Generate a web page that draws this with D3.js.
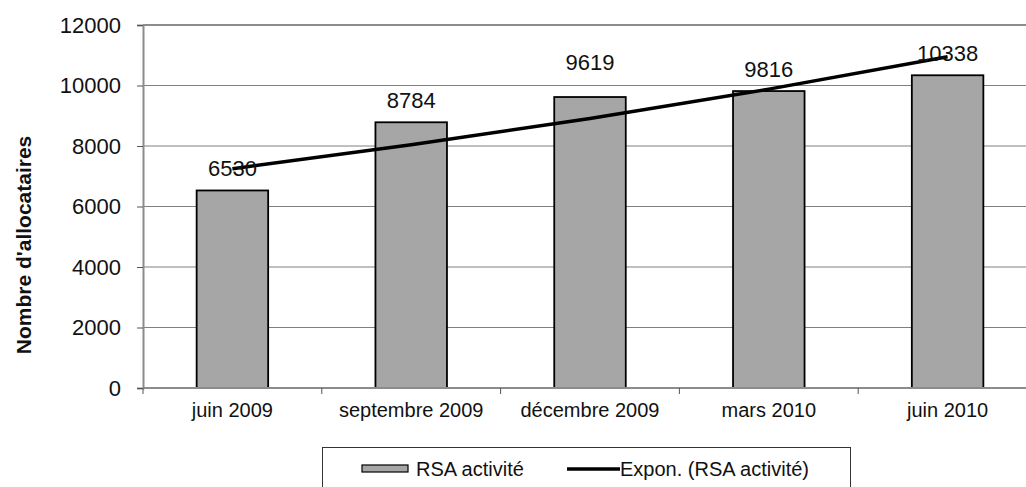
<!DOCTYPE html>
<html>
<head>
<meta charset="utf-8">
<script src="https://cdn.jsdelivr.net/npm/d3@7"></script>
<style>
  body { margin: 0; background: #fff; }
  svg { display: block; font-family: "Liberation Sans", Arial, sans-serif; }
</style>
</head>
<body>
<div id="chart"></div>
<script>
// data
const categories = ["juin 2009", "septembre 2009", "décembre 2009", "mars 2010", "juin 2010"];
const rsaActivite = [6530, 8784, 9619, 9816, 10338];
// exponential trendline, read at each category
const exponTrend = [7250, 8040, 8910, 9880, 10950];
const yTicks = [0, 2000, 4000, 6000, 8000, 10000, 12000];
const seriesName = "RSA activité";
const trendName = "Expon. (RSA activité)";

var width = 1026, height = 487;
var plot = {left: 143, right: 1037, top: 25, bottom: 388};

var svg = d3.select("#chart")
    .append("svg")
    .attr("width", width)
    .attr("height", height);

var x = d3.scaleBand()
    .domain(categories)
    .range([plot.left, plot.right])
    .paddingInner(0.6)
    .paddingOuter(0.3);

var y = d3.scaleLinear()
    .domain([0, 12000])
    .range([plot.bottom, plot.top]);

// gridlines
svg.append("g")
    .selectAll("line")
    .data(yTicks.filter(d => d > 0 && d < 12000))
    .enter()
    .append("line")
    .attr("x1", plot.left).attr("x2", plot.right)
    .attr("y1", d => y(d)).attr("y2", d => y(d))
    .attr("stroke", "#808080")
    .attr("stroke-width", 1);

// top border of plot area
svg.append("line")
    .attr("x1", plot.left).attr("x2", plot.right)
    .attr("y1", y(12000)).attr("y2", y(12000))
    .attr("stroke", "#8c8c8c")
    .attr("stroke-width", 2);

// Y axis
var yAxis = svg.append("g")
    .attr("transform", "translate(" + plot.left + ",0)")
    .call(d3.axisLeft(y).tickValues(yTicks).tickSize(6).tickPadding(16).tickFormat(d3.format("d")));
yAxis.select(".domain").attr("stroke", "#8c8c8c").attr("stroke-width", 2);
yAxis.selectAll(".tick line").attr("stroke", "#555");
yAxis.selectAll("text")
    .style("font-size", "22px")
    .attr("fill", "#111");

// bars
svg.selectAll("rect.bar")
    .data(rsaActivite)
    .enter()
    .append("rect")
    .attr("class", "bar")
    .attr("x", (d, i) => x(categories[i]))
    .attr("y", d => y(d))
    .attr("width", x.bandwidth())
    .attr("height", d => y(0) - y(d))
    .attr("fill", "#a6a6a6")
    .attr("stroke", "#000")
    .attr("stroke-width", 1.8);

// X axis
var xAxis = svg.append("g")
    .attr("transform", "translate(0," + plot.bottom + ")");
xAxis.append("line")
    .attr("x1", plot.left).attr("x2", plot.right)
    .attr("stroke", "#8c8c8c").attr("stroke-width", 2);
var bounds = categories.map(c => x(c) - x.step() * x.paddingOuter());
xAxis.selectAll("line.tk")
    .data(bounds)
    .enter()
    .append("line")
    .attr("class", "tk")
    .attr("x1", d => d).attr("x2", d => d)
    .attr("y1", 0).attr("y2", 6)
    .attr("stroke", "#555");
xAxis.selectAll("text")
    .data(categories)
    .enter()
    .append("text")
    .attr("x", d => x(d) + x.bandwidth() / 2)
    .attr("y", 29)
    .attr("text-anchor", "middle")
    .style("font-size", "20px")
    .attr("fill", "#111")
    .text(d => d);

// trendline
var line = d3.line()
    .x((d, i) => x(categories[i]) + x.bandwidth() / 2)
    .y(d => y(d))
    .curve(d3.curveMonotoneX);
svg.append("path")
    .datum(exponTrend)
    .attr("d", line)
    .attr("fill", "none")
    .attr("stroke", "#000")
    .attr("stroke-width", 3.5);

// value labels (the december one sits a bit higher in the original)
var lift = {"décembre 2009": 13};
svg.selectAll("text.val")
    .data(rsaActivite)
    .enter()
    .append("text")
    .attr("class", "val")
    .attr("x", (d, i) => x(categories[i]) + x.bandwidth() / 2)
    .attr("y", (d, i) => y(d) - 14 - (lift[categories[i]] || 0))
    .attr("text-anchor", "middle")
    .style("font-size", "22px")
    .attr("fill", "#111")
    .text(d => d);

// Y title
svg.append("text")
    .attr("transform", "translate(31,245)rotate(-90)")
    .attr("text-anchor", "middle")
    .style("font-size", "21px")
    .style("font-weight", "bold")
    .attr("fill", "#111")
    .text("Nombre d'allocataires");

// legend
var lg = svg.append("g");
lg.append("rect")
    .attr("x", 322.5).attr("y", 447.5)
    .attr("width", 528).attr("height", 60)
    .attr("fill", "#fff")
    .attr("stroke", "#333")
    .attr("stroke-width", 1);
lg.append("rect")
    .attr("x", 362).attr("y", 465)
    .attr("width", 46).attr("height", 7)
    .attr("fill", "#a6a6a6")
    .attr("stroke", "#000")
    .attr("stroke-width", 1.2);
lg.append("text")
    .attr("x", 416).attr("y", 476)
    .style("font-size", "20px")
    .attr("fill", "#111")
    .text(seriesName);
lg.append("line")
    .attr("x1", 567).attr("x2", 620)
    .attr("y1", 469).attr("y2", 469)
    .attr("stroke", "#000")
    .attr("stroke-width", 3.5);
lg.append("text")
    .attr("x", 620).attr("y", 476)
    .style("font-size", "20px")
    .attr("fill", "#111")
    .text(trendName);
</script>
</body>
</html>
